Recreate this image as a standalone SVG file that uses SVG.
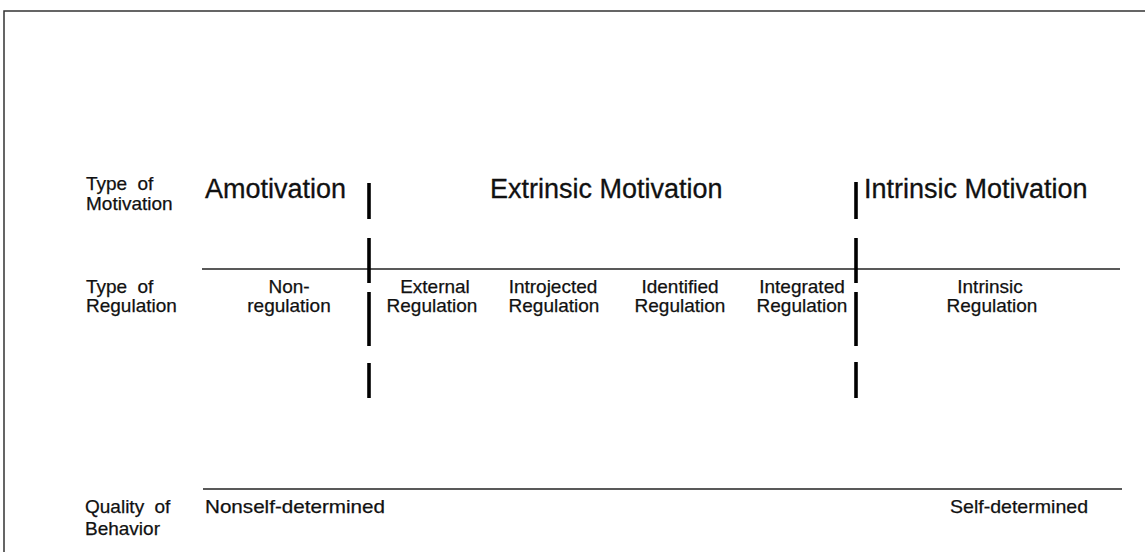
<svg xmlns="http://www.w3.org/2000/svg" width="1145" height="552" viewBox="0 0 1145 552">
<style>
.lbl{font-family:"Liberation Sans",Arial,sans-serif;font-size:19px;fill:#111;stroke:#111;stroke-width:0.25}
.hdr{font-family:"Liberation Sans",Arial,sans-serif;font-size:27px;fill:#111;stroke:#111;stroke-width:0.3}
.ws{word-spacing:5px}
.c{text-anchor:middle}
.rule{stroke:#222;stroke-width:1.6;fill:none}
.bar{stroke:#000;stroke-width:3.6;stroke-linecap:butt}
</style>
<rect width="1145" height="552" fill="#fff"/>
<path d="M4,552 V11 H1145" fill="none" stroke="#333" stroke-width="1.5"/>
<g id="connectors">
<line class="rule" x1="202" y1="269" x2="1120" y2="269"/>
<line class="rule" x1="203" y1="489" x2="1122" y2="489"/>
<g id="divider-left">
<line class="bar" x1="369" y1="183" x2="369" y2="219"/>
<line class="bar" x1="369" y1="238" x2="369" y2="283"/>
<line class="bar" x1="369" y1="292" x2="369" y2="346"/>
<line class="bar" x1="369" y1="363" x2="369" y2="398"/>
</g>
<g id="divider-right">
<line class="bar" x1="856" y1="182" x2="856" y2="219"/>
<line class="bar" x1="856" y1="238" x2="856" y2="283"/>
<line class="bar" x1="856" y1="292" x2="856" y2="346"/>
<line class="bar" x1="856" y1="362" x2="856" y2="398"/>
</g>
</g>
<g id="row-motivation-label"><text class="lbl ws" x="86" y="190">Type of</text><text class="lbl" x="86" y="210">Motivation</text></g>
<g id="amotivation"><text class="hdr" x="205" y="198">Amotivation</text></g>
<g id="extrinsic-motivation"><text class="hdr" x="490" y="198">Extrinsic Motivation</text></g>
<g id="intrinsic-motivation"><text class="hdr" x="864" y="198">Intrinsic Motivation</text></g>
<g id="row-regulation-label"><text class="lbl ws" x="86" y="293">Type of</text><text class="lbl" x="86" y="312">Regulation</text></g>
<g id="non-regulation"><text class="lbl c" x="289" y="293">Non-</text><text class="lbl c" x="289" y="312">regulation</text></g>
<g id="external-regulation"><text class="lbl c" x="435" y="293">External</text><text class="lbl c" x="432" y="312">Regulation</text></g>
<g id="introjected-regulation"><text class="lbl c" x="553" y="293">Introjected</text><text class="lbl c" x="554" y="312">Regulation</text></g>
<g id="identified-regulation"><text class="lbl c" x="680" y="293">Identified</text><text class="lbl c" x="680" y="312">Regulation</text></g>
<g id="integrated-regulation"><text class="lbl c" x="802" y="293">Integrated</text><text class="lbl c" x="802" y="312">Regulation</text></g>
<g id="intrinsic-regulation"><text class="lbl c" x="990" y="293">Intrinsic</text><text class="lbl c" x="992" y="312">Regulation</text></g>
<g id="row-quality-label"><text class="lbl ws" x="85" y="513">Quality of</text><text class="lbl" x="85" y="535">Behavior</text></g>
<g id="nonself-determined"><text class="lbl" x="205" y="513" textLength="180" lengthAdjust="spacingAndGlyphs">Nonself-determined</text></g>
<g id="self-determined"><text class="lbl" x="950" y="513" textLength="138" lengthAdjust="spacingAndGlyphs">Self-determined</text></g>
</svg>
